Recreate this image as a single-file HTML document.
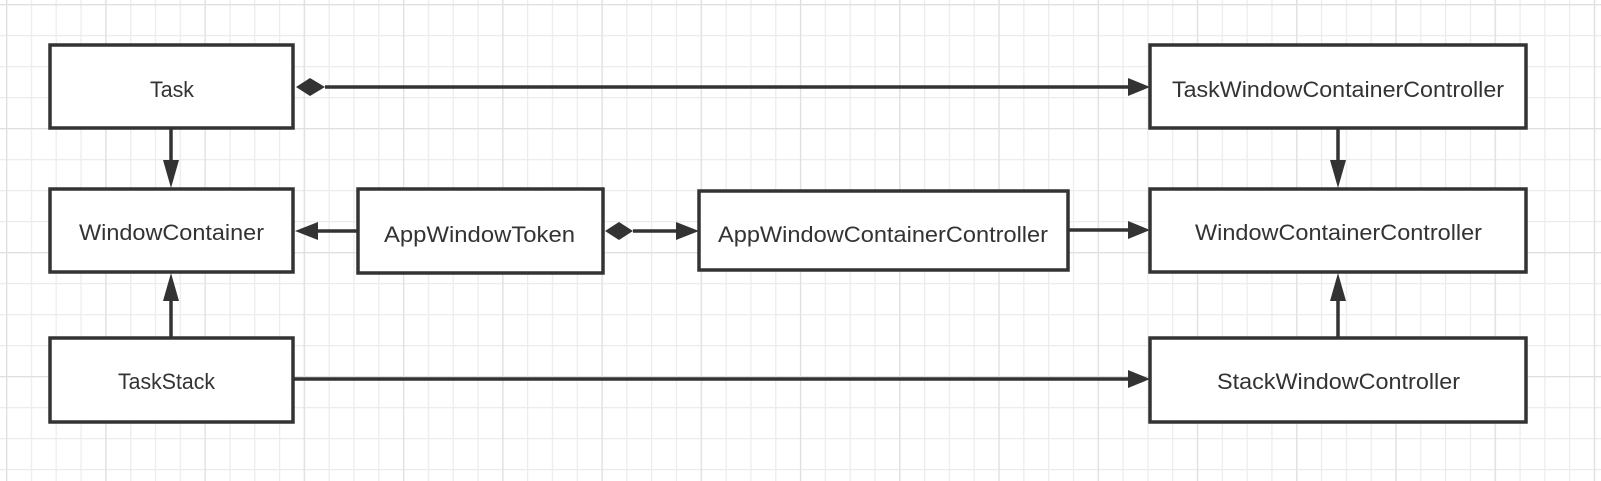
<!DOCTYPE html>
<html><head><meta charset="utf-8"><style>
html,body{margin:0;padding:0;background:#fff;}
svg{display:block;}
text{font-family:"Liberation Sans",sans-serif;font-size:22px;fill:#333;}
</style></head><body>
<svg width="1601" height="481" viewBox="0 0 1601 481" xmlns="http://www.w3.org/2000/svg">
<defs>
<pattern id="g" x="6" y="4" width="24.81" height="31" patternUnits="userSpaceOnUse">
<path d="M0.5 0V31M0 0.5H24.81" stroke="#ececec" stroke-width="1.5" fill="none"/>
</pattern>
<pattern id="G" x="6" y="4" width="99.24" height="124" patternUnits="userSpaceOnUse">
<path d="M0.5 0V124M0 0.5H99.24" stroke="#e0e0e0" stroke-width="1.5" fill="none"/>
</pattern>
</defs>
<rect width="1601" height="481" fill="#fff"/>
<rect width="1601" height="481" fill="url(#g)"/>
<rect width="1601" height="481" fill="url(#G)"/>

<g stroke="#333" stroke-width="3.5" fill="#fff">
<rect x="50" y="45" width="243" height="83"/>
<rect x="50" y="189" width="243" height="83"/>
<rect x="50" y="338" width="243" height="84"/>
<rect x="358" y="189" width="245" height="84"/>
<rect x="699" y="191" width="369" height="79"/>
<rect x="1150" y="45" width="376" height="83"/>
<rect x="1150" y="189" width="376" height="83"/>
<rect x="1150" y="338" width="376" height="84"/>
</g>

<g stroke="#333" stroke-width="3.5" fill="none">
<line x1="325" y1="87" x2="1130" y2="87"/>
<line x1="171" y1="128" x2="171" y2="165"/>
<line x1="358" y1="231" x2="315" y2="231"/>
<line x1="633" y1="231" x2="680" y2="231"/>
<line x1="1068" y1="230" x2="1130" y2="230"/>
<line x1="171" y1="338" x2="171" y2="295"/>
<line x1="293" y1="379" x2="1130" y2="379"/>
<line x1="1338" y1="128" x2="1338" y2="165"/>
<line x1="1338" y1="338" x2="1338" y2="295"/>
</g>

<g fill="#333">
<polygon points="296,87 310,78 325,87 310,96"/>
<polygon points="605,231 619,222 633,231 619,240"/>
<polygon points="1150,87 1128,78 1128,96"/>
<polygon points="699,231 676,222 676,240"/>
<polygon points="1150,230 1128,221 1128,239"/>
<polygon points="1150,379 1128,370 1128,388"/>
<polygon points="295,231 318,222 318,240"/>
<polygon points="171,188 163,160 179,160"/>
<polygon points="171,273 163,301 179,301"/>
<polygon points="1338,188 1330,160 1346,160"/>
<polygon points="1338,273 1330,301 1346,301"/>
</g>

<g text-anchor="start">
<text x="150" y="97" textLength="44" lengthAdjust="spacingAndGlyphs">Task</text>
<text x="79" y="240" textLength="185" lengthAdjust="spacingAndGlyphs">WindowContainer</text>
<text x="118" y="389" textLength="97" lengthAdjust="spacingAndGlyphs">TaskStack</text>
<text x="384" y="242" textLength="191" lengthAdjust="spacingAndGlyphs">AppWindowToken</text>
<text x="718" y="242" textLength="330" lengthAdjust="spacingAndGlyphs">AppWindowContainerController</text>
<text x="1172" y="97" textLength="332" lengthAdjust="spacingAndGlyphs">TaskWindowContainerController</text>
<text x="1195" y="240" textLength="287" lengthAdjust="spacingAndGlyphs">WindowContainerController</text>
<text x="1217" y="389" textLength="243" lengthAdjust="spacingAndGlyphs">StackWindowController</text>
</g>
</svg>
</body></html>
